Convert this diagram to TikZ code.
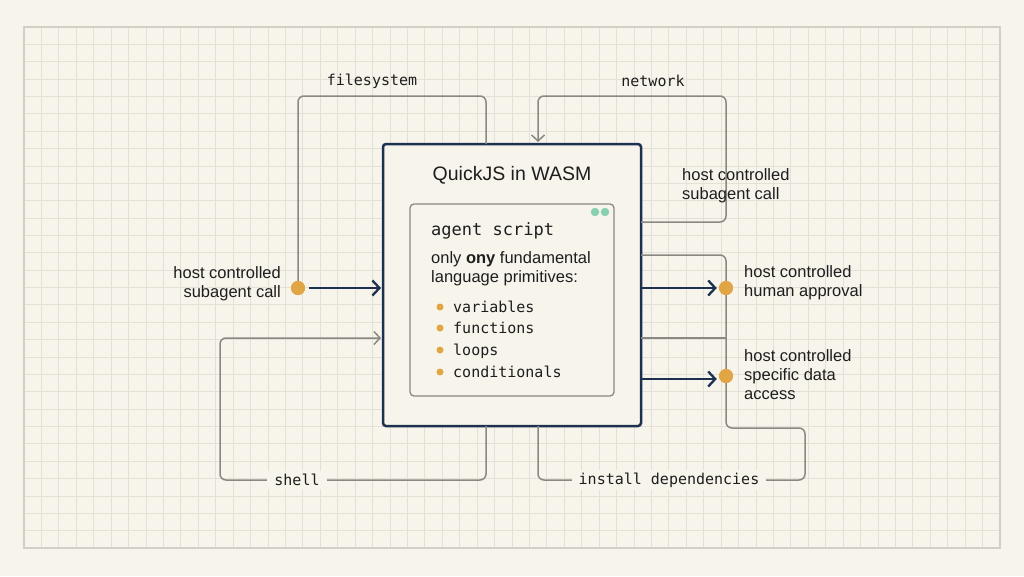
\documentclass[tikz,border=0pt]{standalone}
\usepackage{fontspec}
\setmainfont{Liberation Sans}
\setsansfont{Liberation Sans}
\setmonofont{DejaVu Sans Mono}
\usetikzlibrary{arrows.meta,calc}
\definecolor{bg}{HTML}{F7F4EB}
\definecolor{gridc}{HTML}{E4E0D6}
\definecolor{framec}{HTML}{D2CFC7}
\definecolor{navy}{HTML}{1D3050}
\definecolor{glinec}{HTML}{8A8883}
\definecolor{orangec}{HTML}{E2A544}
\definecolor{greenc}{HTML}{88D1AE}
\definecolor{txt}{HTML}{1E1E1E}
\begin{document}
\begin{tikzpicture}[x=1pt,y=-1pt,
  gridline/.style={draw=gridc,line width=0.9pt},
  outerbox/.style={draw=navy,line width=2.5pt,rounded corners=3pt,inner sep=0pt},
  innerbox/.style={draw=glinec,line width=1.3pt,rounded corners=4pt,inner sep=0pt},
  gline/.style={draw=glinec,line width=1.5pt,rounded corners=6pt},
  garrow/.style={gline,-{Straight Barb[length=6pt,width=13pt,line width=1.5pt]}},
  narrow/.style={draw=navy,line width=2.3pt,-{Straight Barb[length=7pt,width=15pt,line width=2.3pt]}},
  odot/.style={circle,fill=orangec,inner sep=0pt,minimum size=14pt},
  bdot/.style={circle,fill=orangec,inner sep=0pt,minimum size=7pt},
  gdot/.style={circle,fill=greenc,inner sep=0pt,minimum size=8.5pt},
  lbl/.style={text=txt,inner sep=0pt,font=\fontsize{16.5}{19}\selectfont},
  monolbl/.style={text=txt,inner sep=0pt,font=\ttfamily\fontsize{15}{18}\selectfont},
  onlinelbl/.style={monolbl,fill=bg,inner xsep=7pt,inner ysep=3pt},
  bullettext/.style={text=txt,inner sep=0pt,anchor=base west,font=\ttfamily\fontsize{15}{18}\selectfont}
]
\path[use as bounding box,fill=bg] (0,0) rectangle (1024,576);
% grid
\foreach \i in {1,...,55} \draw[gridline] ({24+\i*17.43},27) -- ({24+\i*17.43},548);
\foreach \j in {1,...,29} \draw[gridline] (24,{27+\j*17.37}) -- (1000,{27+\j*17.37});
\draw[draw=framec,line width=1.3pt] (24,27) rectangle (1000,548);

% main boxes
\node[outerbox,fill=bg,minimum width=258pt,minimum height=282pt] (qjs) at (512,285) {};
\node[text=txt,inner sep=0pt,anchor=base,font=\fontsize{19.5}{22}\selectfont] (title) at (512,180) {QuickJS in WASM};
\node[innerbox,minimum width=204pt,minimum height=192pt] (script) at (512,300) {};
\node[gdot] (g1) at (595,212) {};
\node[gdot] (g2) at (605,212) {};
\node[text=txt,inner sep=0pt,anchor=base west,font=\ttfamily\fontsize{17}{20}\selectfont] (agent) at (431,235) {agent script};
\node[lbl,anchor=base west,align=left] (prims) at (431,282) {only \textbf{ony} fundamental\\language primitives:};
\node[bdot] (b1) at (440,307) {};
\node[bullettext] (t1) at (453,312) {variables};
\node[bdot] (b2) at (440,328) {};
\node[bullettext] (t2) at (453,333) {functions};
\node[bdot] (b3) at (440,350) {};
\node[bullettext] (t3) at (453,355) {loops};
\node[bdot] (b4) at (440,372) {};
\node[bullettext] (t4) at (453,377) {conditionals};

% endpoints on the box border
\coordinate (fsTop) at (486,144);
\coordinate (nwIn) at (538,142);
\coordinate (nwOut) at (641,222);
\coordinate (depOut) at (641,255);
\coordinate (midOut) at (641,338);
\coordinate (shIn) at (381,338);
\coordinate (shOut) at (486,426);
\coordinate (depIn) at (538,426);
\coordinate (apOut) at (641,288);
\coordinate (daOut) at (641,379);

% dots
\node[odot] (dL) at (298,288) {};
\node[odot] (dR1) at (726,288) {};
\node[odot] (dR2) at (726,376) {};

% grey connectors
\draw[gline] (fsTop) -- (486,96) -- (298,96) -- (dL.center);
\draw[garrow] (nwOut) -- (726,222) -- (726,96) -- (538,96) -- (nwIn);
\draw[gline] (depOut) -- (726,255) -- (726,428) -- (805,428) -- (805,480) -- (538,480) -- (depIn);
\draw[gline] (midOut) -- (726,338);
\draw[garrow] (shOut) -- (486,480) -- (220,480) -- (220,338) -- (shIn);

% navy arrows
\draw[narrow] ($(dL.east)+(4,0)$) -- (381,288);
\draw[narrow] (apOut) -- ($(dR1.west)+(-2,0)$);
\draw[narrow] (daOut) -- ($(dR2.west)+(-2,3)$);

% dots redrawn on top
\node[odot] at (dL) {};
\node[odot] at (dR1) {};
\node[odot] at (dR2) {};

% labels
\node[monolbl] (fs) at (372,81) {filesystem};
\node[monolbl] (nw) at (653,81) {network};
\node[onlinelbl] (sh) at (297,480) {shell};
\node[onlinelbl] (dep) at (669,480) {install dependencies};
\node[lbl,anchor=base east,align=right] (lL) at (281,297) {host controlled\\subagent call};
\node[lbl,anchor=base west,align=left] (lN) at (682,199) {host controlled\\subagent call};
\node[lbl,anchor=base west,align=left] (lH) at (744,296) {host controlled\\human approval};
\node[lbl,anchor=base west,align=left] (lD) at (744,399) {host controlled\\specific data\\access};
\end{tikzpicture}
\end{document}
